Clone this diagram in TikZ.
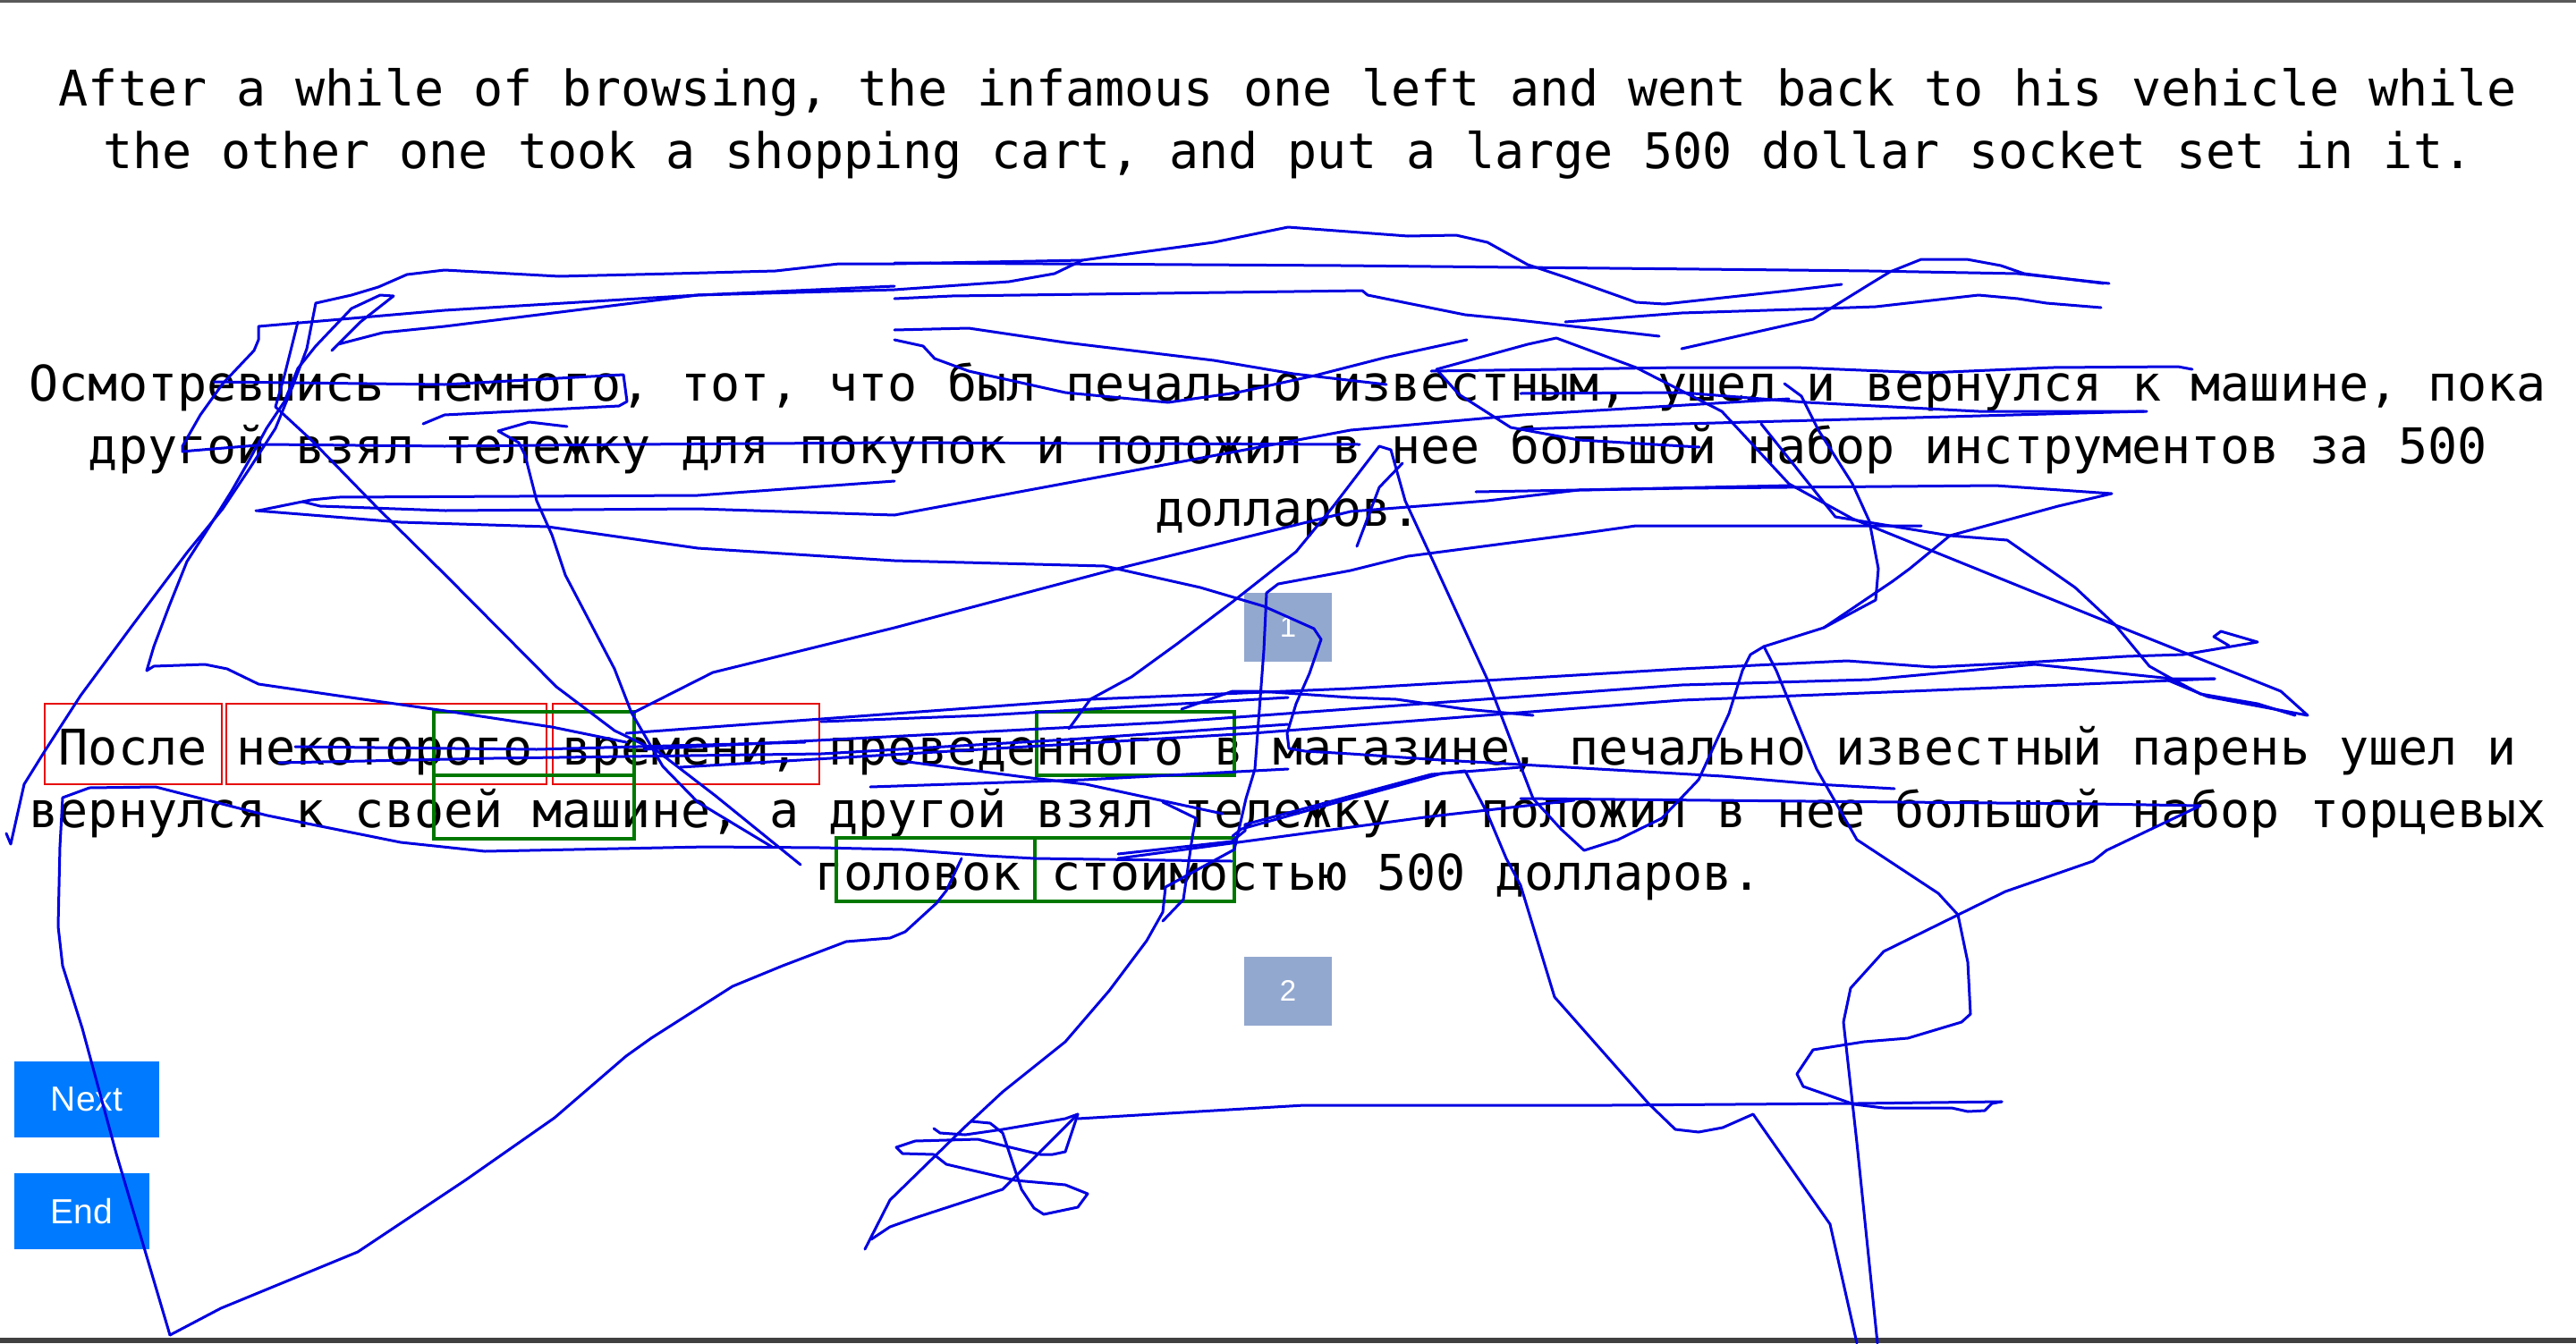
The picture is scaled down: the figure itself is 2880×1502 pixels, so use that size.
\documentclass[tikz,border=0pt]{standalone}
\usepackage{fontspec}
\setmainfont{Liberation Sans}
\newfontfamily\monof{DejaVu Sans Mono}
\definecolor{scribble}{RGB}{0,0,225}
\definecolor{tagred}{RGB}{230,10,10}
\definecolor{taggreen}{RGB}{0,120,0}
\definecolor{pagebox}{RGB}{147,168,207}
\definecolor{btnblue}{RGB}{0,123,255}
\tikzset{
  mono/.style={anchor=base, inner sep=0pt, font=\monof\fontsize{55pt}{70pt}\selectfont, text=black},
  pagenum/.style={fill=pagebox, draw=none, minimum width=98pt, minimum height=77pt, inner sep=0pt, text=white, font=\fontsize{33pt}{36pt}\selectfont},
  btn/.style={fill=btnblue, draw=none, minimum height=85pt, inner sep=0pt, text=white, font=\fontsize{39pt}{41pt}\selectfont},
  redtag/.style={draw=tagred, line width=2.5pt},
  greentag/.style={draw=taggreen, line width=4.5pt},
  scrib/.style={draw=scribble, line width=3pt, line join=round, line cap=round}
}
\begin{document}
\begin{tikzpicture}[x=1pt,y=-1pt]
\useasboundingbox (0,0) rectangle (2880,1502);
\fill[white] (0,0) rectangle (2880,1502);
\fill[black!65] (0,0) rectangle (2880,3);
\fill[black!75] (0,1496) rectangle (2880,1502);

% texts
\node[mono] (e1) at (1440,118) {After a while of browsing, the infamous one left and went back to his vehicle while};
\node[mono] (e2) at (1440,188) {the other one took a shopping cart, and put a large 500 dollar socket set in it.};
\node[mono] (r1) at (1440,448) {Осмотревшись немного, тот, что был печально известным, ушел и вернулся к машине, пока};
\node[mono] (r2) at (1440,518) {другой взял тележку для покупок и положил в нее большой набор инструментов за 500};
\node[mono] (r3) at (1440,588) {долларов.};
\node[mono] (t1) at (1440,855) {После некоторого времени, проведенного в магазине, печально известный парень ушел и};
\node[mono] (t2) at (1440,925) {вернулся к своей машине, а другой взял тележку и положил в нее большой набор торцевых};
\node[mono] (t3) at (1440,995) {головок стоимостью 500 долларов.};

% page number boxes
\node[pagenum] (p1) at (1440,701.5) {1};
\node[pagenum] (p2) at (1440,1108) {2};

% buttons
\node[btn, minimum width=162pt] (next) at (97,1229.5) {Next};
\node[btn, minimum width=151pt] (end) at (91.5,1354.5) {End};

% alignment boxes
\draw[redtag] (50,787) rectangle (248,877);
\draw[redtag] (253,787) rectangle (611,877);
\draw[redtag] (618,787) rectangle (916,877);
\draw[greentag] (485,796) rectangle (709,867);
\draw[greentag] (485,867) rectangle (709,938);
\draw[greentag] (1159,796) rectangle (1380,867);
\draw[greentag] (935,937) rectangle (1157,1008);
\draw[greentag] (1157,937) rectangle (1380,1008);

% scribbles
\draw[scrib] (7,932) -- (12,944) -- (27,877) -- (50,840) -- (90,778) -- (149,698) -- (209,618) -- (249,569) -- (279,524) -- (308,479) -- (328,430) -- (343,390) -- (353,339) -- (393,330) -- (423,321) -- (455,307) -- (497,302) -- (625,309) -- (753,306) -- (867,303) -- (938,295) -- (1000,295) -- (1210,291) -- (1357,271) -- (1440,254) -- (1574,264) -- (1628,263) -- (1663,271) -- (1708,296) -- (1753,311) -- (1829,338) -- (1861,340) -- (2000,325) -- (2059,318);
\draw[scrib] (700,830) -- (617,813) -- (498,795) -- (378,778) -- (289,765) -- (254,748) -- (229,743) -- (172,745) -- (164,750) -- (172,723) -- (189,678) -- (209,628) -- (234,589) -- (259,549) -- (279,514) -- (298,479) -- (318,449) -- (333,412) -- (353,387) -- (393,345) -- (425,330) -- (440,331) -- (403,360) -- (371,392) -- (378,385) -- (428,372) -- (497,365) -- (780,330) -- (1000,324) -- (1128,315) -- (1179,306) -- (1210,291);
\draw[scrib] (1000,320) -- (780,330) -- (497,347) -- (289,365) -- (289,380) -- (284,392) -- (249,429) -- (224,464) -- (204,499) -- (204,505) -- (214,504) -- (299,497) -- (497,499) -- (700,497) -- (1000,495) -- (1520,497);
\draw[scrib] (333,360) -- (318,420) -- (308,455) -- (348,492) -- (423,569) -- (498,643) -- (622,768) -- (687,817) -- (735,840) -- (800,890) -- (895,967);
\draw[scrib] (634,477) -- (592,472) -- (557,482) -- (580,495) -- (587,509) -- (600,560) -- (617,598) -- (632,643) -- (687,748) -- (706,797) -- (741,857) -- (780,897) -- (863,947);
\draw[scrib] (239,427) -- (497,430) -- (697,419) -- (701,449) -- (692,454) -- (497,464) -- (473,474);
\draw[scrib] (289,571) -- (348,559) -- (378,556) -- (780,554) -- (1000,538);
\draw[scrib] (338,561) -- (358,566) -- (498,571) -- (780,569) -- (1000,576) -- (1242,531) -- (1510,481) -- (1702,464) -- (2000,446);
\draw[scrib] (286,571) -- (448,584) -- (612,589) -- (780,613) -- (1000,627) -- (1235,633) -- (1342,657) -- (1413,678) -- (1469,703) -- (1477,715) -- (1464,753) -- (1449,787) -- (1439,820) -- (1441,837) -- (1459,840) -- (1510,843) -- (1612,850) -- (1700,855) -- (1926,868) -- (2031,877) -- (2118,882);
\draw[scrib] (190,1493) -- (130,1290) -- (92,1150) -- (70,1080) -- (65,1036) -- (67,947) -- (70,892) -- (100,881) -- (174,880) -- (299,912) -- (448,942) -- (542,952) -- (790,947) -- (918,948) -- (1010,950) -- (1102,957) -- (1157,960) -- (1377,963);
\draw[scrib] (190,1493) -- (247,1463) -- (400,1400) -- (520,1320) -- (620,1250) -- (700,1181) -- (728,1161) -- (819,1103) -- (875,1080) -- (946,1053) -- (995,1049) -- (1012,1042) -- (1047,1010) -- (1058,996) -- (1075,960);
\draw[scrib] (2148,588) -- (2000,588) -- (1829,588) -- (1765,597) -- (1574,622) -- (1510,638) -- (1429,653) -- (1416,663) -- (1413,727) -- (1403,860) -- (1393,893) -- (1380,950) -- (1303,992) -- (1300,1020) -- (1282,1052) -- (1240,1108) -- (1191,1165) -- (1121,1221) -- (1079,1260) -- (995,1342) -- (967,1397);
\draw[scrib] (1044,1262) -- (1051,1267) -- (1079,1269) -- (1121,1263) -- (1191,1251) -- (1205,1246) -- (1191,1288) -- (1177,1291) -- (1163,1291) -- (1121,1281) -- (1093,1274) -- (1023,1276) -- (1002,1283) -- (1009,1290) -- (1044,1291) -- (1058,1302) -- (1135,1320) -- (1191,1325) -- (1216,1335) -- (1205,1350) -- (1167,1358) -- (1156,1351) -- (1142,1330) -- (1121,1267) -- (1107,1256) -- (1086,1254);
\draw[scrib] (1205,1246) -- (1121,1330) -- (1023,1362) -- (995,1372) -- (974,1386);
\draw[scrib] (1205,1251) -- (1458,1236) -- (1800,1236) -- (2076,1234) -- (2238,1232);
\draw[scrib] (1490,567) -- (1449,617) -- (1378,673) -- (1316,720) -- (1265,757) -- (1219,782) -- (1195,815);
\draw[scrib] (1568,518) -- (1542,545) -- (1517,611);
\draw[scrib] (1378,935) -- (1388,927) -- (1510,893) -- (1612,865) -- (1638,862) -- (1663,910) -- (1684,960) -- (1700,990) -- (1738,1115) -- (1843,1234) -- (1873,1263) -- (1899,1266) -- (1926,1261) -- (1960,1246) -- (2046,1369) -- (2076,1502);
\draw[scrib] (1995,429) -- (2014,443) -- (2033,481) -- (2071,541) -- (2090,583) -- (2100,636) -- (2097,671) -- (2039,702) -- (1972,723) -- (1957,732) -- (1948,750) -- (1933,798) -- (1899,872) -- (1858,915) -- (1809,939) -- (1771,951) -- (1745,927) -- (1714,893) -- (1663,760) -- (1602,627) -- (1571,560) -- (1555,503) -- (1542,499) -- (1490,567);
\draw[scrib] (1972,723) -- (1986,750) -- (2031,860) -- (2076,939) -- (2167,999) -- (2189,1023) -- (2200,1076) -- (2203,1134) -- (2193,1143) -- (2133,1161) -- (2084,1165) -- (2027,1174) -- (2009,1201) -- (2016,1215) -- (2073,1235) -- (2106,1239) -- (2182,1239) -- (2200,1243) -- (2219,1242) -- (2227,1234) -- (2238,1232);
\draw[scrib] (1700,893) -- (2340,899) -- (2460,901) -- (2355,951) -- (2340,963) -- (2242,997) -- (2106,1064) -- (2069,1105) -- (2061,1143) -- (2076,1278) -- (2099,1502);
\draw[scrib] (1606,413) -- (1708,385) -- (1740,378) -- (1829,411) -- (1925,460) -- (2000,541) -- (2071,580) -- (2365,699) -- (2550,773) -- (2580,800) -- (2468,779) -- (2422,760);
\draw[scrib] (1969,474) -- (2052,578) -- (2180,599) -- (2244,604) -- (2320,657) -- (2365,699) -- (2403,745) -- (2428,759) -- (2460,776) -- (2524,787) -- (2566,800);
\draw[scrib] (700,820) -- (1000,798) -- (1219,782) -- (1510,770) -- (1880,748) -- (2065,739) -- (2161,746) -- (2263,741) -- (2377,734) -- (2441,732) -- (2524,718) -- (2483,706) -- (2475,712) -- (2492,722);
\draw[scrib] (720,838) -- (1300,808) -- (1880,766) -- (2090,760) -- (2275,743) -- (2428,759) -- (2476,759);
\draw[scrib] (760,858) -- (1400,820) -- (1880,783) -- (2135,773) -- (2476,759);
\draw[scrib] (1321,793) -- (1378,773) -- (1408,773) -- (1510,780) -- (1561,782) -- (1638,793) -- (1714,800);
\draw[scrib] (1000,294) -- (1500,297) -- (2000,302) -- (2090,303) -- (2256,306) -- (2358,317);
\draw[scrib] (1880,390) -- (2027,357) -- (2090,318) -- (2113,304) -- (2148,290) -- (2199,290) -- (2237,297) -- (2263,306) -- (2352,317);
\draw[scrib] (1000,334) -- (1064,331) -- (1523,325) -- (1529,330) -- (1638,352) -- (1689,357) -- (1855,376);
\draw[scrib] (1750,360) -- (1880,350) -- (2039,345) -- (2097,343) -- (2212,330) -- (2256,334) -- (2288,339) -- (2349,344);
\draw[scrib] (1600,415) -- (1880,411) -- (2008,411) -- (2154,417) -- (2295,411) -- (2435,410) -- (2451,413);
\draw[scrib] (1700,440) -- (1880,439) -- (2020,450) -- (2212,460) -- (2400,460);
\draw[scrib] (1700,480) -- (1880,474) -- (2141,467) -- (2397,460);
\draw[scrib] (1650,550) -- (1880,546) -- (2231,543) -- (2361,552) -- (2301,566) -- (2180,599) -- (2135,636) -- (2116,650) -- (2039,702);
\draw[scrib] (1000,369) -- (1083,367) -- (1191,383) -- (1357,403) -- (1446,418) -- (1550,430);
\draw[scrib] (1000,380) -- (1032,387) -- (1045,401) -- (1083,415) -- (1191,439) -- (1306,450) -- (1383,439) -- (1470,420) -- (1548,400) -- (1640,380);
\draw[scrib] (1606,413) -- (1631,441) -- (1689,478) -- (1765,492) -- (1900,500);
\draw[scrib] (312,853) -- (551,848) -- (918,843) -- (1194,827) -- (1440,810);
\draw[scrib] (918,807) -- (1100,800) -- (1440,780);
\draw[scrib] (330,835) -- (600,838) -- (900,830);
\draw[scrib] (973,880) -- (1212,872) -- (1440,860);
\draw[scrib] (1000,850) -- (1153,870) -- (1214,877) -- (1367,910);
\draw[scrib] (708,797) -- (797,752) -- (1000,702) -- (1245,637) -- (1510,572) -- (1663,560) -- (1765,548) -- (2000,543);
\draw[scrib] (1250,955) -- (1377,941) -- (1392,929) -- (1392,922) -- (1600,866) -- (1700,858);
\draw[scrib] (1300,897) -- (1337,915) -- (1333,936) -- (1323,1006) -- (1300,1030);
\draw[scrib] (1250,960) -- (1600,913) -- (1760,895);
\end{tikzpicture}
\end{document}
